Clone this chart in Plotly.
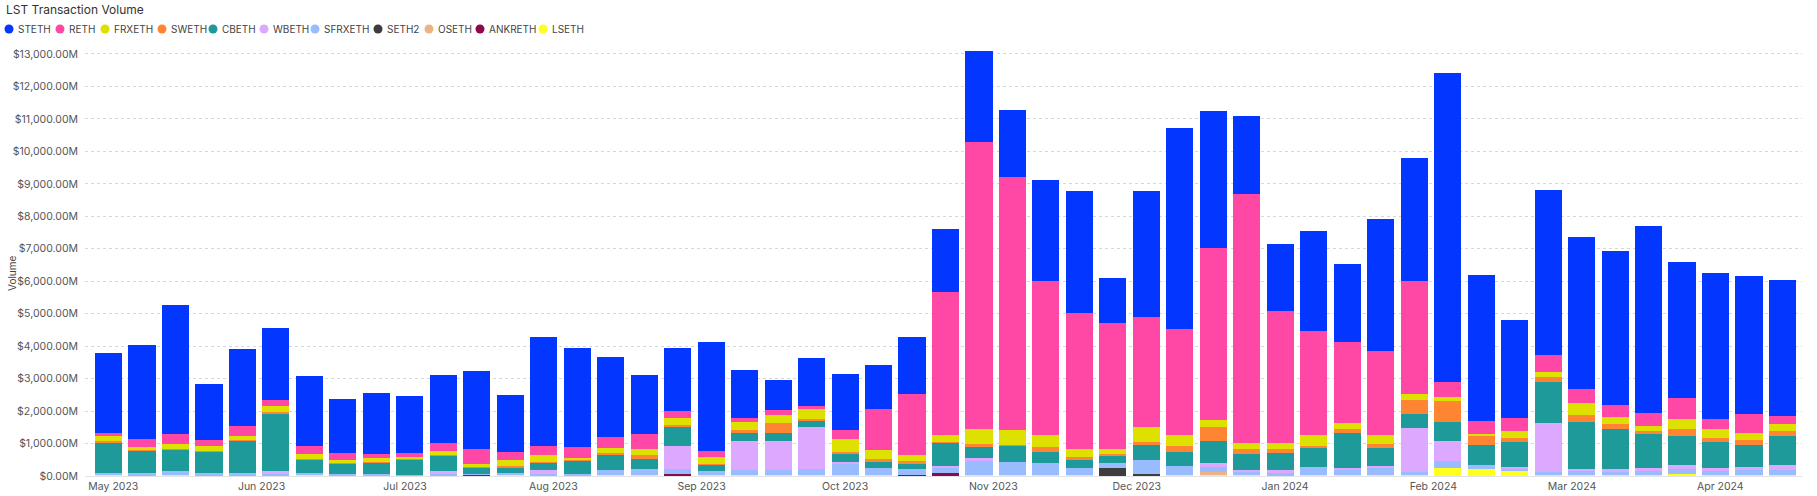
import plotly.graph_objects as go

# ---------------- data ----------------
WEEKS = [
    "2023-04-30", "2023-05-07", "2023-05-14", "2023-05-21", "2023-05-28",
    "2023-06-04", "2023-06-11", "2023-06-18", "2023-06-25", "2023-07-02",
    "2023-07-09", "2023-07-16", "2023-07-23", "2023-07-30", "2023-08-06",
    "2023-08-13", "2023-08-20", "2023-08-27", "2023-09-03", "2023-09-10",
    "2023-09-17", "2023-09-24", "2023-10-01", "2023-10-08", "2023-10-15",
    "2023-10-22", "2023-10-29", "2023-11-05", "2023-11-12", "2023-11-19",
    "2023-11-26", "2023-12-03", "2023-12-10", "2023-12-17", "2023-12-24",
    "2023-12-31", "2024-01-07", "2024-01-14", "2024-01-21", "2024-01-28",
    "2024-02-04", "2024-02-11", "2024-02-18", "2024-02-25", "2024-03-03",
    "2024-03-10", "2024-03-17", "2024-03-24", "2024-03-31", "2024-04-07",
    "2024-04-14",
]

# values in $M
STETH = [2486, 2905, 3990, 1714, 2360, 2210, 2156, 1684, 1878, 1766,
         2073, 2392, 1746, 3376, 3047, 2485, 1817, 1940, 3377, 1479,
         937, 1468, 1713, 1366, 1744, 1933, 2815, 2078, 3111, 3772,
         1400, 3872, 6188, 4208, 2407, 2046, 3102, 2382, 4068, 3800,
         9518, 4496, 3009, 5083, 4663, 4733, 5740, 4208, 4494, 4230,
         4212]
RETH = [80, 230, 290, 199, 300, 180, 239, 203, 118, 108,
        272, 487, 249, 267, 318, 320, 448, 200, 180, 100,
        140, 106, 281, 1269, 1876, 4394, 8817, 7797, 4727, 4168,
        3879, 3400, 3265, 5318, 7652, 4084, 3193, 2495, 2597, 3485,
        463, 385, 400, 516, 434, 390, 400, 647, 330, 600,
        250]
FRXETH = [150, 110, 160, 130, 130, 200, 140, 90, 120, 75,
          100, 60, 190, 205, 80, 175, 200, 220, 200, 256,
          240, 290, 390, 270, 195, 213, 458, 467, 394, 269,
          150, 475, 348, 215, 189, 172, 342, 193, 272, 170,
          133, 80, 200, 154, 380, 216, 150, 290, 250, 200,
          200]
SWETH = [40, 20, 20, 20, 20, 20, 20, 20, 20, 20,
         20, 20, 50, 40, 20, 30, 100, 50, 40, 100,
         310, 50, 80, 100, 70, 20, 100, 10, 154, 80,
         30, 60, 195, 410, 175, 110, 70, 110, 130, 420,
         657, 267, 150, 154, 216, 154, 100, 226, 150, 150,
         150]
CBETH = [950, 680, 670, 670, 1000, 1780, 420, 310, 360, 450,
         490, 200, 155, 226, 390, 480, 310, 600, 175, 230,
         250, 200, 226, 165, 165, 720, 360, 490, 310, 257,
         236, 490, 410, 680, 480, 544, 585, 1100, 565, 460,
         565, 626, 750, 1263, 1430, 1207, 1050, 900, 800, 700,
         900]
WBETH = [0, 0, 0, 0, 0, 100, 0, 0, 0, 0,
         90, 0, 0, 100, 0, 0, 0, 690, 0, 900,
         910, 1280, 50, 0, 0, 60, 60, 0, 0, 0,
         0, 0, 0, 144, 50, 100, 0, 50, 30, 1355,
         616, 0, 50, 1510, 80, 100, 100, 120, 80, 100,
         150]
SFRXETH = [70, 60, 110, 60, 60, 30, 70, 50, 35, 20,
           30, 20, 70, 46, 50, 160, 200, 180, 140, 170,
           150, 210, 370, 240, 175, 175, 460, 420, 390, 216,
           154, 430, 290, 133, 113, 60, 226, 160, 226, 80,
           236, 100, 86, 80, 120, 100, 120, 150, 120, 130,
           150]
SETH2 = [0, 0, 0, 0, 0, 0, 0, 0, 0, 0,
         0, 40, 0, 0, 0, 0, 0, 0, 0, 0,
         0, 0, 0, 0, 30, 0, 0, 0, 0, 0,
         236, 40, 0, 0, 0, 0, 0, 0, 0, 0,
         0, 0, 0, 0, 0, 0, 0, 0, 0, 0,
         0]
OSETH = [0, 0, 0, 0, 0, 0, 0, 0, 0, 0,
         0, 0, 0, 0, 0, 0, 0, 0, 0, 0,
         0, 0, 0, 0, 0, 0, 0, 0, 0, 0,
         0, 0, 0, 113, 0, 0, 0, 0, 0, 0,
         0, 0, 0, 0, 0, 0, 0, 0, 0, 0,
         0]
ANKRETH = [0, 0, 0, 0, 0, 0, 0, 0, 0, 0,
           0, 0, 0, 10, 0, 0, 0, 30, 0, 0,
           0, 0, 0, 0, 0, 70, 0, 0, 0, 0,
           0, 0, 0, 0, 0, 0, 0, 0, 0, 0,
           0, 0, 0, 0, 0, 0, 0, 0, 0, 0,
           0]
LSETH = [24, 30, 30, 30, 30, 30, 25, 25, 25, 25,
         25, 15, 25, 20, 25, 25, 25, 20, 25, 20,
         20, 20, 20, 20, 15, 15, 20, 20, 25, 20,
         15, 15, 30, 20, 20, 20, 40, 30, 40, 30,
         236, 226, 150, 40, 30, 30, 30, 59, 36, 40,
         38]

LEGEND_ORDER = ["STETH", "RETH", "FRXETH", "SWETH", "CBETH", "WBETH",
                "SFRXETH", "SETH2", "OSETH", "ANKRETH", "LSETH"]
SERIES = {
    "STETH": STETH, "RETH": RETH, "FRXETH": FRXETH, "SWETH": SWETH,
    "CBETH": CBETH, "WBETH": WBETH, "SFRXETH": SFRXETH, "SETH2": SETH2,
    "OSETH": OSETH, "ANKRETH": ANKRETH, "LSETH": LSETH,
}
COLORS = {
    "STETH": "#0336FF", "RETH": "#FF47A6", "FRXETH": "#DEE000",
    "SWETH": "#FF8533", "CBETH": "#1F9A9A", "WBETH": "#DDA8FF",
    "SFRXETH": "#99BBFF", "SETH2": "#3D3D3D", "OSETH": "#EDB387",
    "ANKRETH": "#8C0A4B", "LSETH": "#FFFF1F",
}

# ---------------- layout geometry ----------------
W, H = 1817, 496
ML, MR, MT, MB = 85, 15, 41, 20
PW, PH = W - ML - MR, H - MT - MB
FONT = "Inter, Roboto, 'Open Sans', sans-serif"


def px2x(px):
    return (px - ML) / PW


def py2y(py):
    return (H - MB - py) / PH


fig = go.Figure()
# stacked bottom-up: reverse of legend order
for name in reversed(LEGEND_ORDER):
    fig.add_trace(go.Bar(
        x=WEEKS, y=SERIES[name], name=name,
        marker=dict(color=COLORS[name], line=dict(width=0)),
        showlegend=False,
        hovertemplate="%{x|%b %d, %Y}<br>" + name + ": $%{y:,.2f}M<extra></extra>",
    ))

# custom legend (circle + label) like the reference
shapes, annotations = [], []
cx = 9
for name in LEGEND_ORDER:
    shapes.append(dict(
        type="circle", xref="paper", yref="paper",
        xsizemode="pixel", ysizemode="pixel",
        xanchor=px2x(cx), yanchor=py2y(29),
        x0=-4.5, x1=4.5, y0=-4.5, y1=4.5,
        fillcolor=COLORS[name], line=dict(width=0),
    ))
    annotations.append(dict(
        text=name, xref="paper", yref="paper",
        x=px2x(cx + 7), y=py2y(29), xanchor="left", yanchor="middle",
        showarrow=False, font=dict(family=FONT, size=10, color="#444"),
    ))
    cx += 21 + 6 * len(name)

annotations.append(dict(
    text="LST Transaction Volume", xref="paper", yref="paper",
    x=px2x(4), y=py2y(10), xanchor="left", yanchor="middle",
    showarrow=False, font=dict(family=FONT, size=12, color="#333"),
))
annotations.append(dict(
    text="Volume", xref="paper", yref="paper", textangle=-90,
    x=px2x(12), y=py2y(274), xanchor="center", yanchor="middle",
    showarrow=False, font=dict(family=FONT, size=10, color="#444"),
))

fig.update_layout(
    width=W, height=H, autosize=False,
    margin=dict(l=ML, r=MR, t=MT, b=MB, pad=0),
    barmode="stack", bargap=0.19,
    plot_bgcolor="white", paper_bgcolor="white",
    font=dict(family=FONT, size=11, color="#555"),
    shapes=shapes, annotations=annotations,
    showlegend=False,
    xaxis=dict(
        type="date", range=["2023-04-25 02:00", "2024-04-18 02:00"],
        tick0="2023-05-01", dtick="M1", tickformat="%b %Y",
        showgrid=False, ticks="", showline=True, linecolor="#e3e3e3",
        tickfont=dict(size=10.5, color="#555"), fixedrange=True,
        automargin=False,
    ),
    yaxis=dict(
        range=[0, 13400], tick0=0, dtick=1000,
        tickprefix="$", ticksuffix="M", tickformat=",.2f",
        showgrid=True, gridcolor="#d8d8d8", griddash="dot", gridwidth=1,
        zeroline=False, showline=False, ticks="",
        ticklabelstandoff=6,
        tickfont=dict(size=10.5, color="#555"), fixedrange=True,
        automargin=False,
    ),
)

fig.write_html(
    "out.html",
    config={"displayModeBar": False},
    post_script="document.body.style.margin='0';document.body.style.overflow='hidden';",
)
